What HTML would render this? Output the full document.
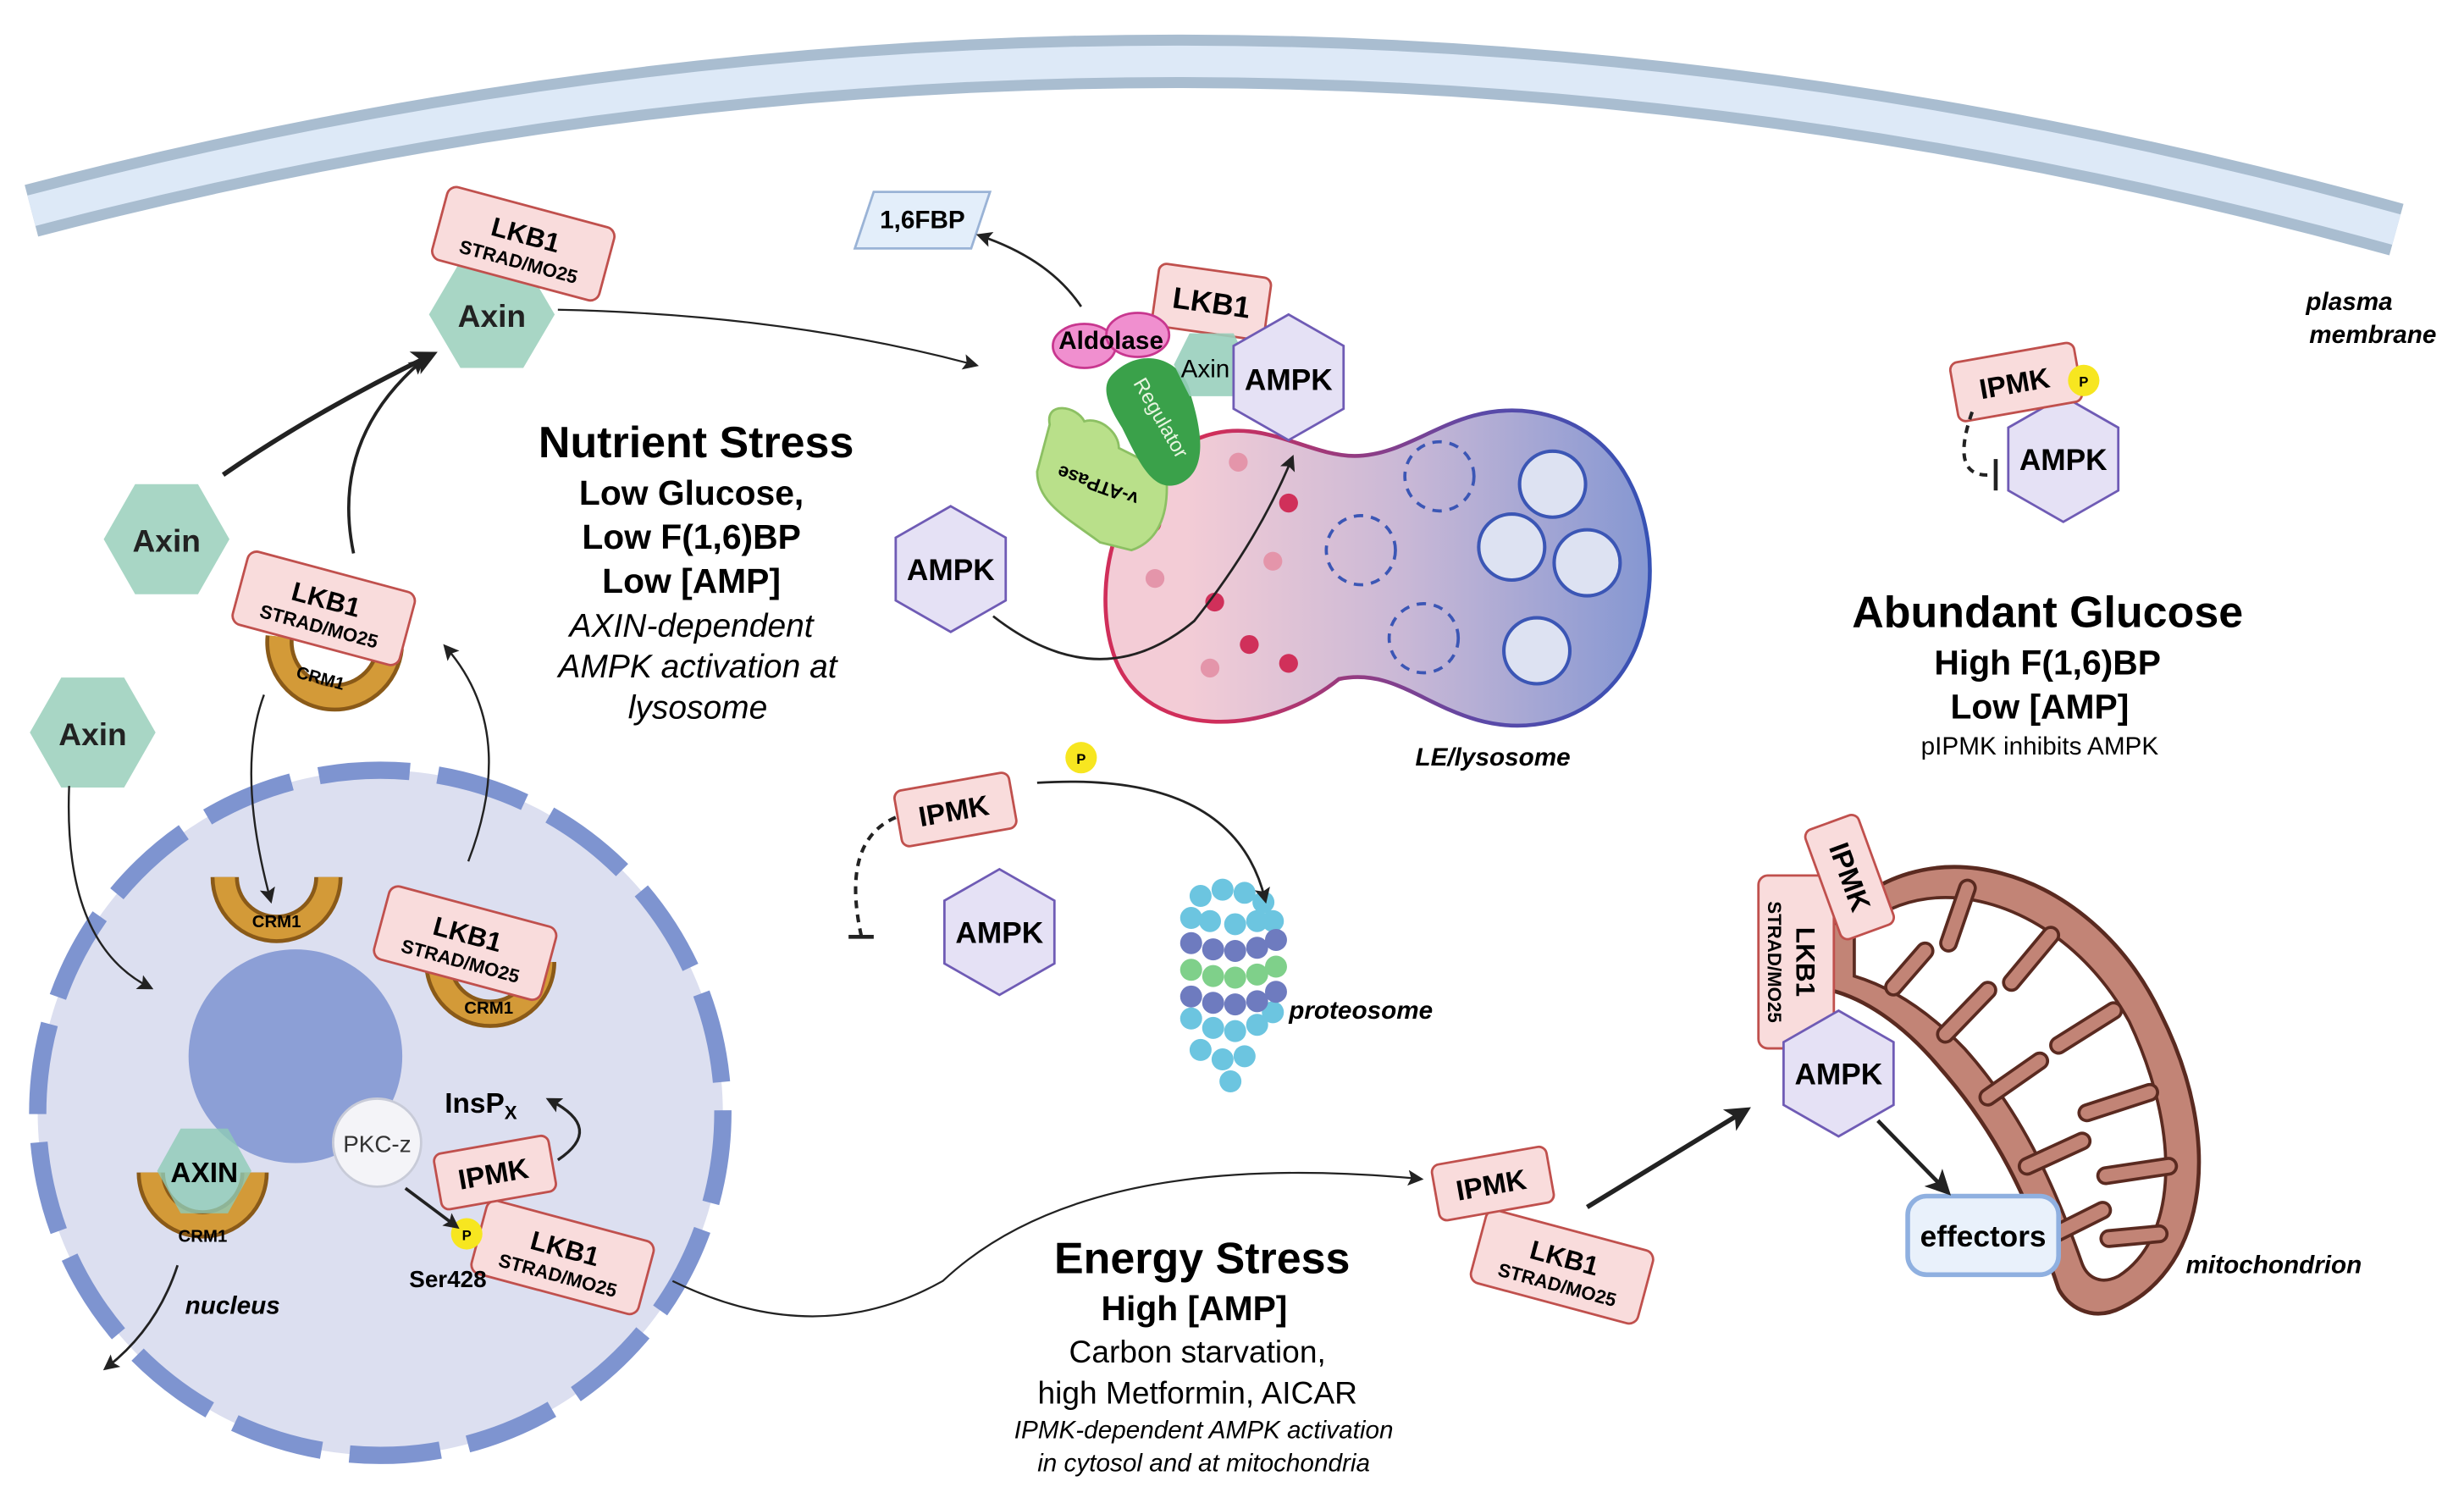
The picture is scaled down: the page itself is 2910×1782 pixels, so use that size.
<!DOCTYPE html>
<html><head><meta charset="utf-8"><style>
html,body{margin:0;padding:0;background:#fff;}
svg{display:block;font-family:"Liberation Sans",Arial,sans-serif;}
</style></head><body>
<svg width="2910" height="1782" viewBox="0 0 1568 960" xmlns="http://www.w3.org/2000/svg">
<defs>
<marker id="ah" markerWidth="10" markerHeight="10" refX="7" refY="5" orient="auto" markerUnits="userSpaceOnUse"><path d="M0,0 L10,5 L0,10 L2,5 Z" fill="#222"/></marker>
<marker id="ahb" markerWidth="16" markerHeight="16" refX="11" refY="8" orient="auto" markerUnits="userSpaceOnUse"><path d="M0,0 L16,8 L0,16 L4,8 Z" fill="#222"/></marker>
<linearGradient id="lg" x1="0" x2="1" y1="0" y2="0"><stop offset="0.15" stop-color="#f3ccd6"/><stop offset="0.55" stop-color="#c9b8d6"/><stop offset="1" stop-color="#8597d2"/></linearGradient>
<linearGradient id="ls" x1="0" x2="1" y1="0" y2="0"><stop offset="0.2" stop-color="#d02e5a"/><stop offset="0.7" stop-color="#5a49a8"/><stop offset="1" stop-color="#3652b5"/></linearGradient>
</defs>

<!-- plasma membrane -->
<path d="M20,134 Q770,-62 1525,146" fill="none" stroke="#a9bdd0" stroke-width="34"/>
<path d="M20,134 Q770,-62 1525,146" fill="none" stroke="#dde9f7" stroke-width="20"/>
<text x="1495" y="197" font-size="16" font-weight="bold" font-style="italic" text-anchor="middle">plasma</text>
<text x="1510" y="218" font-size="16" font-weight="bold" font-style="italic" text-anchor="middle">membrane</text>

<!-- nucleus -->
<circle cx="242" cy="708" r="218" fill="#dcdff0" stroke="#7e94d0" stroke-width="11" stroke-dasharray="58 18"/>
<circle cx="188" cy="672" r="68" fill="#8c9fd6"/>
<text x="148" y="836" font-size="16" font-weight="bold" font-style="italic" text-anchor="middle">nucleus</text>

<!-- CRM1 horseshoes -->
<g fill="none">
<path d="M143,558 A33,33 0 0 0 209,558" stroke="#8a5a18" stroke-width="18"/><path d="M143,558 A33,33 0 0 0 209,558" stroke="#d39a38" stroke-width="13"/>
<path d="M279,612 A33,33 0 0 0 345,612" stroke="#8a5a18" stroke-width="18"/><path d="M279,612 A33,33 0 0 0 345,612" stroke="#d39a38" stroke-width="13"/>
<path d="M96,746 A33,33 0 0 0 162,746" stroke="#8a5a18" stroke-width="18"/><path d="M96,746 A33,33 0 0 0 162,746" stroke="#d39a38" stroke-width="13"/>
<path d="M178,405 A35,35 0 0 0 248,412" stroke="#8a5a18" stroke-width="18"/><path d="M178,405 A35,35 0 0 0 248,412" stroke="#d39a38" stroke-width="13"/>
</g>
<g font-size="11" font-weight="bold" text-anchor="middle">
<text x="176" y="590">CRM1</text><text x="311" y="645">CRM1</text><text x="129" y="790">CRM1</text>
<text x="203" y="435" transform="rotate(15 203 435)">CRM1</text>
</g>

<!-- Axin hexes -->
<g fill="#a8d6c5">
<polygon points="66,343 86,308 126,308 146,343 126,378 86,378"/>
<polygon points="19,466 39,431 79,431 99,466 79,501 39,501"/>
<polygon points="273,200 293,166 333,166 353,200 333,234 293,234"/>
</g>
<g font-size="20" font-weight="bold" text-anchor="middle" fill="#222">
<text x="106" y="351">Axin</text><text x="59" y="474">Axin</text><text x="313" y="208">Axin</text>
</g>
<polygon points="100,745 115,718 145,718 160,745 145,772 115,772" fill="#8fcab6" opacity="0.8"/>
<text x="130" y="752" font-size="18" font-weight="bold" text-anchor="middle">AXIN</text>

<!-- mitochondrion -->
<path d="M1165,590 C1220,520 1330,550 1375,645 C1415,725 1405,805 1350,832 C1330,842 1315,830 1310,820 C1290,760 1270,720 1235,680 C1210,650 1185,635 1165,630 Z" fill="#c28476" stroke="#5a2a20" stroke-width="2.5"/>
<path d="M1180,595 C1225,548 1312,572 1355,650 C1388,720 1386,788 1348,812 C1336,818 1328,812 1325,804 C1306,750 1285,706 1250,667 C1224,640 1200,627 1180,621 Z" fill="#fff" stroke="#5a2a20" stroke-width="2"/>
<g stroke="#5a2a20" stroke-width="12" stroke-linecap="round" fill="none">
<path d="M1252,565 L1240,600"/><path d="M1305,595 L1280,625"/><path d="M1345,643 L1310,665"/><path d="M1368,695 L1328,708"/><path d="M1380,742 L1340,748"/><path d="M1374,785 L1342,788"/>
<path d="M1205,628 L1225,605"/><path d="M1238,658 L1265,630"/><path d="M1265,698 L1298,675"/><path d="M1290,742 L1325,726"/><path d="M1308,785 L1338,770"/>
</g>
<g stroke="#c28476" stroke-width="8" stroke-linecap="round" fill="none">
<path d="M1252,565 L1240,600"/><path d="M1305,595 L1280,625"/><path d="M1345,643 L1310,665"/><path d="M1368,695 L1328,708"/><path d="M1380,742 L1340,748"/><path d="M1374,785 L1342,788"/>
<path d="M1205,628 L1225,605"/><path d="M1238,658 L1265,630"/><path d="M1265,698 L1298,675"/><path d="M1290,742 L1325,726"/><path d="M1308,785 L1338,770"/>
</g>
<text x="1447" y="810" font-size="16" font-weight="bold" font-style="italic" text-anchor="middle">mitochondrion</text>

<!-- LKB1 boxes -->
<g fill="#f9dcdc" stroke="#c0504d" stroke-width="1.5">
<rect x="-55" y="-24" width="110" height="48" rx="6" transform="translate(333,155) rotate(15)"/>
<rect x="-55" y="-24" width="110" height="48" rx="6" transform="translate(206,387) rotate(15)"/>
<rect x="-55" y="-24" width="110" height="48" rx="6" transform="translate(296,600) rotate(15)"/>
<rect x="-55" y="-24" width="110" height="48" rx="6" transform="translate(358,800) rotate(15)"/>
<rect x="-55" y="-24" width="110" height="48" rx="6" transform="translate(994,806) rotate(15)"/>
<rect x="-36" y="-20" width="72" height="40" rx="5" transform="translate(771,192) rotate(8)"/>
<rect x="-55" y="-24" width="110" height="48" rx="6" transform="translate(1143,612) rotate(90)"/>
</g>
<g text-anchor="middle" font-weight="bold">
<g transform="translate(333,155) rotate(15)"><text y="0" font-size="17">LKB1</text><text y="16" font-size="12">STRAD/MO25</text></g>
<g transform="translate(206,387) rotate(15)"><text y="0" font-size="17">LKB1</text><text y="16" font-size="12">STRAD/MO25</text></g>
<g transform="translate(296,600) rotate(15)"><text y="0" font-size="17">LKB1</text><text y="16" font-size="12">STRAD/MO25</text></g>
<g transform="translate(358,800) rotate(15)"><text y="0" font-size="17">LKB1</text><text y="16" font-size="12">STRAD/MO25</text></g>
<g transform="translate(994,806) rotate(15)"><text y="0" font-size="17">LKB1</text><text y="16" font-size="12">STRAD/MO25</text></g>
<g transform="translate(771,192) rotate(8)"><text y="7" font-size="19">LKB1</text></g>
<g transform="translate(1143,612) rotate(90)"><text y="0" font-size="17">LKB1</text><text y="18" font-size="12">STRAD/MO25</text></g>
</g>

<!-- lysosome -->
<path d="M760,280 C800,262 830,290 862,290 C900,290 925,255 975,262 C1040,272 1056,340 1048,385 C1040,445 990,472 940,458 C905,448 885,425 852,432 C805,470 730,470 710,420 C692,372 712,300 760,280 Z" fill="url(#lg)" stroke="url(#ls)" stroke-width="2.5"/>
<g fill="none" stroke="#3b56b5" stroke-width="2" stroke-dasharray="6 5">
<circle cx="916" cy="303" r="22"/><circle cx="866" cy="350" r="22"/><circle cx="906" cy="406" r="22"/>
</g>
<g fill="#dde2f2" stroke="#3b56b5" stroke-width="2.2">
<circle cx="988" cy="308" r="21"/><circle cx="962" cy="348" r="21"/><circle cx="1010" cy="358" r="21"/><circle cx="978" cy="414" r="21"/>
</g>
<g fill="#d0305a"><circle cx="773" cy="383" r="6"/><circle cx="820" cy="320" r="6"/><circle cx="795" cy="410" r="6"/><circle cx="820" cy="422" r="6"/><circle cx="733" cy="333" r="6"/></g>
<g fill="#e495aa"><circle cx="788" cy="294" r="6"/><circle cx="810" cy="357" r="6"/><circle cx="735" cy="368" r="6"/><circle cx="770" cy="425" r="6"/></g>
<text x="950" y="487" font-size="16" font-weight="bold" font-style="italic" text-anchor="middle">LE/lysosome</text>

<!-- v-ATPase, Regulator, Aldolase, Axin -->
<path d="M668,270 C665,255 685,258 690,268 C700,265 712,275 712,285 L742,300 C745,330 735,345 720,350 L700,345 C680,330 660,320 660,300 Z" fill="#b9e08a" stroke="#8cc063" stroke-width="1.5"/>
<text x="700" y="305" font-size="12" font-weight="bold" text-anchor="middle" transform="rotate(200 700 305)">v-ATPase</text>
<path d="M708,238 C728,218 755,230 758,252 C764,272 770,300 750,308 C733,314 724,292 714,272 C705,258 700,246 708,238 Z" fill="#3aa14a"/>
<text x="735" y="268" font-size="13" fill="#e8f5e0" text-anchor="middle" transform="rotate(60 735 268)">Regulator</text>
<polygon points="747,232 757,212 785,212 795,232 785,252 757,252" fill="#99cfbc" opacity="0.9"/>
<text x="767" y="240" font-size="16" text-anchor="middle">Axin</text>
<ellipse cx="690" cy="220" rx="20" ry="14" fill="#f08fcf" stroke="#c8378f" stroke-width="1.5"/>
<ellipse cx="724" cy="213" rx="20" ry="14" fill="#f08fcf" stroke="#c8378f" stroke-width="1.5"/>
<text x="707" y="222" font-size="16" font-weight="bold" text-anchor="middle">Aldolase</text>

<!-- AMPK hexes -->
<g fill="#e5e1f5" stroke="#6f5bb5" stroke-width="1.5">
<polygon points="605,322 640,342 640,382 605,402 570,382 570,342"/>
<polygon points="636,553 671,573 671,613 636,633 601,613 601,573"/>
<polygon points="820,200 855,220 855,260 820,280 785,260 785,220"/>
<polygon points="1313,252 1348,272 1348,312 1313,332 1278,312 1278,272"/>
<polygon points="1170,643 1205,663 1205,703 1170,723 1135,703 1135,663"/>
</g>
<g font-size="19" font-weight="bold" text-anchor="middle">
<text x="605" y="369">AMPK</text><text x="636" y="600">AMPK</text><text x="820" y="248">AMPK</text><text x="1313" y="299">AMPK</text><text x="1170" y="690">AMPK</text>
</g>

<!-- IPMK boxes -->
<g fill="#f9dcdc" stroke="#c0504d" stroke-width="1.5">
<rect x="-37" y="-18" width="74" height="36" rx="5" transform="translate(608,515) rotate(-10)"/>
<rect x="-37" y="-18" width="74" height="36" rx="5" transform="translate(315,746) rotate(-10)"/>
<rect x="-37" y="-18" width="74" height="36" rx="5" transform="translate(950,753) rotate(-10)"/>
<rect x="-40" y="-19" width="80" height="38" rx="5" transform="translate(1283,243) rotate(-10)"/>
<rect x="-37" y="-18" width="74" height="36" rx="5" transform="translate(1177,558) rotate(70)"/>
</g>
<g font-size="18" font-weight="bold" text-anchor="middle">
<text transform="translate(608,522) rotate(-10)">IPMK</text>
<text transform="translate(315,753) rotate(-10)">IPMK</text>
<text transform="translate(950,760) rotate(-10)">IPMK</text>
<text transform="translate(1283,250) rotate(-10)">IPMK</text>
<text transform="translate(1177,558) rotate(70) translate(0,6)">IPMK</text>
</g>

<!-- P circles -->
<g fill="#f7e620"><circle cx="297" cy="785" r="10"/><circle cx="688" cy="482" r="10"/><circle cx="1326" cy="242" r="10"/></g>
<g font-size="9" font-weight="bold" text-anchor="middle"><text x="297" y="789">P</text><text x="688" y="486">P</text><text x="1326" y="246">P</text></g>

<!-- PKC-z -->
<circle cx="240" cy="727" r="28" fill="#f4f4f8" stroke="#c8cbd8" stroke-width="1.5"/>
<text x="240" y="733" font-size="15" text-anchor="middle" fill="#333">PKC-z</text>
<text x="283" y="708" font-size="18" font-weight="bold">InsP<tspan font-size="12" dy="4">X</tspan></text>
<text x="285" y="819" font-size="15" font-weight="bold" text-anchor="middle">Ser428</text>

<!-- 1,6FBP -->
<polygon points="556,122 630,122 618,158 544,158" fill="#e3eefa" stroke="#9ab3d6" stroke-width="1.5"/>
<text x="587" y="145" font-size="16" font-weight="bold" text-anchor="middle">1,6FBP</text>

<!-- proteasome -->
<g>
<g fill="#6cc5e0"><circle cx="764" cy="570" r="7"/><circle cx="778" cy="566" r="7"/><circle cx="792" cy="568" r="7"/><circle cx="804" cy="574" r="7"/><circle cx="758" cy="584" r="7"/><circle cx="810" cy="586" r="7"/>
<circle cx="758" cy="648" r="7"/><circle cx="772" cy="654" r="7"/><circle cx="786" cy="656" r="7"/><circle cx="800" cy="652" r="7"/><circle cx="810" cy="644" r="7"/><circle cx="764" cy="668" r="7"/><circle cx="778" cy="674" r="7"/><circle cx="792" cy="672" r="7"/><circle cx="783" cy="688" r="7"/></g>
<g fill="#6e7bbf"><circle cx="758" cy="600" r="7"/><circle cx="772" cy="604" r="7"/><circle cx="786" cy="605" r="7"/><circle cx="800" cy="603" r="7"/><circle cx="812" cy="598" r="7"/>
<circle cx="758" cy="634" r="7"/><circle cx="772" cy="638" r="7"/><circle cx="786" cy="639" r="7"/><circle cx="800" cy="637" r="7"/><circle cx="812" cy="631" r="7"/></g>
<g fill="#7fd08a"><circle cx="758" cy="617" r="7"/><circle cx="772" cy="621" r="7"/><circle cx="786" cy="622" r="7"/><circle cx="800" cy="620" r="7"/><circle cx="812" cy="615" r="7"/></g>
<g fill="#6cc5e0"><circle cx="770" cy="586" r="7"/><circle cx="786" cy="588" r="7"/><circle cx="800" cy="586" r="7"/></g>
</g>
<text x="866" y="648" font-size="16" font-weight="bold" font-style="italic" text-anchor="middle">proteosome</text>

<!-- effectors -->
<rect x="1214" y="761" width="96" height="50" rx="12" fill="#e9f1fb" stroke="#8fb0e0" stroke-width="3"/>
<text x="1262" y="793" font-size="19" font-weight="bold" text-anchor="middle">effectors</text>

<!-- arrows -->
<g fill="none" stroke="#222">
<path d="M142,302 Q200,262 274,226" stroke-width="3" marker-end="url(#ahb)"/>
<path d="M225,352 Q210,280 268,230" stroke-width="2" marker-end="url(#ah)"/>
<path d="M355,197 Q500,200 620,232" stroke-width="1.2" marker-end="url(#ah)"/>
<path d="M688,195 Q668,165 624,150" stroke-width="1.5" marker-end="url(#ah)"/>
<path d="M632,392 Q700,445 760,395 Q800,345 822,292" stroke-width="1.5" marker-end="url(#ah)"/>
<path d="M44,500 Q40,600 95,628" stroke-width="1.3" marker-end="url(#ah)"/>
<path d="M168,442 Q150,490 172,572" stroke-width="1.3" marker-end="url(#ah)"/>
<path d="M298,548 Q330,465 284,412" stroke-width="1.3" marker-end="url(#ah)"/>
<path d="M113,805 Q100,845 68,870" stroke-width="1.5" marker-end="url(#ah)"/>
<path d="M258,756 L290,780" stroke-width="2" marker-end="url(#ah)"/>
<path d="M355,738 Q385,718 350,700" stroke-width="1.8" marker-end="url(#ah)"/>
<path d="M428,815 Q520,860 600,815 Q690,730 903,750" stroke-width="1.2" marker-end="url(#ah)"/>
<path d="M1010,768 L1110,707" stroke-width="3" marker-end="url(#ahb)"/>
<path d="M1195,713 L1238,757" stroke-width="2.5" marker-end="url(#ahb)"/>
<path d="M660,498 Q785,490 805,572" stroke-width="1.5" marker-end="url(#ah)"/>
<path d="M570,520 Q535,535 548,595" stroke-width="2.2" stroke-dasharray="5 4"/>
<path d="M540,596 L556,596" stroke-width="2.5"/>
<path d="M1255,262 Q1240,305 1268,302" stroke-width="2.2" stroke-dasharray="5 4"/>
<path d="M1270,292 L1270,312" stroke-width="2.5"/>
</g>

<!-- text blocks -->
<g text-anchor="middle">
<text x="443" y="291" font-size="28" font-weight="bold">Nutrient Stress</text>
<text x="440" y="321" font-size="22" font-weight="bold">Low Glucose,</text>
<text x="440" y="349" font-size="22" font-weight="bold">Low F(1,6)BP</text>
<text x="440" y="377" font-size="22" font-weight="bold">Low [AMP]</text>
<text x="440" y="405" font-size="21" font-style="italic">AXIN-dependent</text>
<text x="444" y="431" font-size="21" font-style="italic">AMPK activation at</text>
<text x="444" y="457" font-size="21" font-style="italic">lysosome</text>

<text x="765" y="810" font-size="28" font-weight="bold">Energy Stress</text>
<text x="760" y="840" font-size="22" font-weight="bold">High [AMP]</text>
<text x="762" y="867" font-size="20">Carbon starvation,</text>
<text x="762" y="893" font-size="20">high Metformin, AICAR</text>
<text x="766" y="915" font-size="16" font-style="italic">IPMK-dependent AMPK activation</text>
<text x="766" y="936" font-size="16" font-style="italic">in cytosol and at mitochondria</text>

<text x="1303" y="399" font-size="28" font-weight="bold">Abundant Glucose</text>
<text x="1303" y="429" font-size="22" font-weight="bold">High F(1,6)BP</text>
<text x="1298" y="457" font-size="22" font-weight="bold">Low [AMP]</text>
<text x="1298" y="480" font-size="16">pIPMK inhibits AMPK</text>
</g>
</svg>
</body></html>
